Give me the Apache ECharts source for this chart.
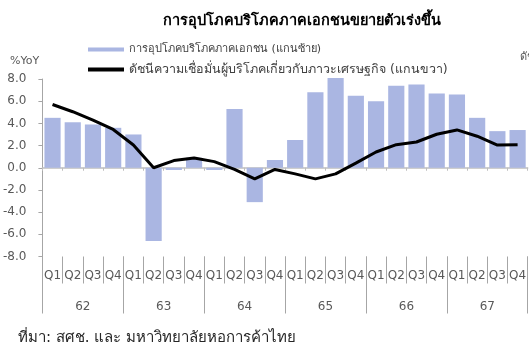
<!DOCTYPE html>
<html><head><meta charset="utf-8">
<script src="https://cdn.jsdelivr.net/npm/echarts@6/dist/echarts.min.js"></script>
<style>html,body{margin:0;padding:0;background:#fff}#c{width:529px;height:351px}</style>
</head><body><div id="c"></div>
<script>
const quarters = ['Q1','Q2','Q3','Q4','Q1','Q2','Q3','Q4','Q1','Q2','Q3','Q4','Q1','Q2','Q3','Q4','Q1','Q2','Q3','Q4','Q1','Q2','Q3','Q4'];
const years = ['62','63','64','65','66','67'];
const consumption = [4.5, 4.1, 3.9, 3.6, 3.0, -6.6, -0.2, 0.9, -0.2, 5.3, -3.1, 0.7, 2.5, 6.8, 8.1, 6.5, 6.0, 7.4, 7.5, 6.7, 6.6, 4.5, 3.3, 3.4];
const confidence = [5.7, 5.05, 4.3, 3.45, 2.05, 0.0, 0.65, 0.88, 0.55, -0.15, -1.0, -0.15, -0.55, -1.0, -0.55, 0.42, 1.42, 2.08, 2.32, 3.02, 3.41, 2.84, 2.05, 2.08];
const yTicks = {min: -8, max: 8, interval: 2};
const seriesNames = ['การอุปโภคบริโภคภาคเอกชน (แกนซ้าย)', 'ดัชนีความเชื่อมั่นผู้บริโภคเกี่ยวกับภาวะเศรษฐกิจ (แกนขวา)'];
const titleText = 'การอุปโภคบริโภคภาคเอกชนขยายตัวเร่งขึ้น';
const leftAxisName = '%YoY';
const rightAxisName = 'ดัชนี';
const sourceText = 'ที่มา: สศช. และ มหาวิทยาลัยหอการค้าไทย';

const FONT = 'Tahoma, "DejaVu Sans", "Noto Sans", sans-serif';
const chart = echarts.init(document.getElementById('c'), null, {renderer: 'canvas'});
chart.setOption({
  animation: false,
  textStyle: {fontFamily: FONT},
  title: {text: titleText, left: 158, top: 9, textStyle: {fontFamily: FONT, fontSize: 14.5, fontWeight: 'bold', color: '#000'}},
  legend: {
    orient: 'vertical', left: 83, top: 39, itemWidth: 36, itemHeight: 4, itemGap: 8,
    textStyle: {fontFamily: FONT, fontSize: 11, color: '#404040'},
    data: [
      {name: seriesNames[0], icon: 'rect'},
      {name: seriesNames[1], icon: 'rect', textStyle: {fontSize: 12.5}}
    ]
  },
  graphic: [
    {type: 'text', left: 10, top: 56, style: {text: leftAxisName, fontFamily: FONT, fontSize: 11, fill: '#595959'}},
    {type: 'text', left: 520, top: 52, style: {text: rightAxisName, fontFamily: FONT, fontSize: 11, fill: '#595959'}},
    {type: 'text', left: 18, top: 331, style: {text: sourceText, fontFamily: FONT, fontSize: 15, fill: '#262626'}}
  ],
  grid: {left: 40, top: 79, width: 492, height: 177.5, containLabel: false},
  xAxis: [
    {type: 'category', data: quarters, position: 'bottom', boundaryGap: true,
     axisLine: {show: false, onZero: false},
     axisTick: {show: true, length: 27, interval: 0, lineStyle: {color: '#A6A6A6'}},
     axisLabel: {interval: 0, margin: 13, fontFamily: FONT, fontSize: 12, color: '#595959'}},
    {type: 'category', data: years, position: 'bottom', boundaryGap: true,
     axisLine: {show: false, onZero: false},
     axisTick: {show: true, length: 57, interval: 0, lineStyle: {color: '#A6A6A6'}},
     axisLabel: {interval: 0, margin: 44, fontFamily: FONT, fontSize: 12, color: '#595959'}},
    {type: 'category', data: quarters, position: 'bottom', boundaryGap: true,
     axisLine: {show: true, onZero: true, onZeroAxisIndex: 0, lineStyle: {color: '#BFBFBF', width: 1.5}},
     axisTick: {show: true, length: 3, interval: 0, lineStyle: {color: '#BFBFBF'}},
     axisLabel: {show: false}}
  ],
  yAxis: [
    {type: 'value', min: yTicks.min, max: yTicks.max, interval: yTicks.interval,
     axisLine: {show: true, lineStyle: {color: '#A6A6A6'}},
     axisTick: {show: true, length: 4, lineStyle: {color: '#A6A6A6'}},
     splitLine: {show: false},
     axisLabel: {margin: 16, fontFamily: FONT, fontSize: 12, color: '#595959', formatter: v => v.toFixed(1)}},
    {type: 'value', min: yTicks.min, max: yTicks.max, interval: yTicks.interval, show: false}
  ],
  series: [
    {name: seriesNames[0], type: 'bar', xAxisIndex: 0, yAxisIndex: 0, data: consumption,
     barCategoryGap: '20%', clip: false, itemStyle: {color: '#AAB6E2'}},
    {name: seriesNames[1], type: 'line', xAxisIndex: 0, yAxisIndex: 1, data: confidence,
     symbol: 'none', lineStyle: {color: '#000', width: 3}, itemStyle: {color: '#000'}, z: 5}
  ]
});
</script></body></html>
